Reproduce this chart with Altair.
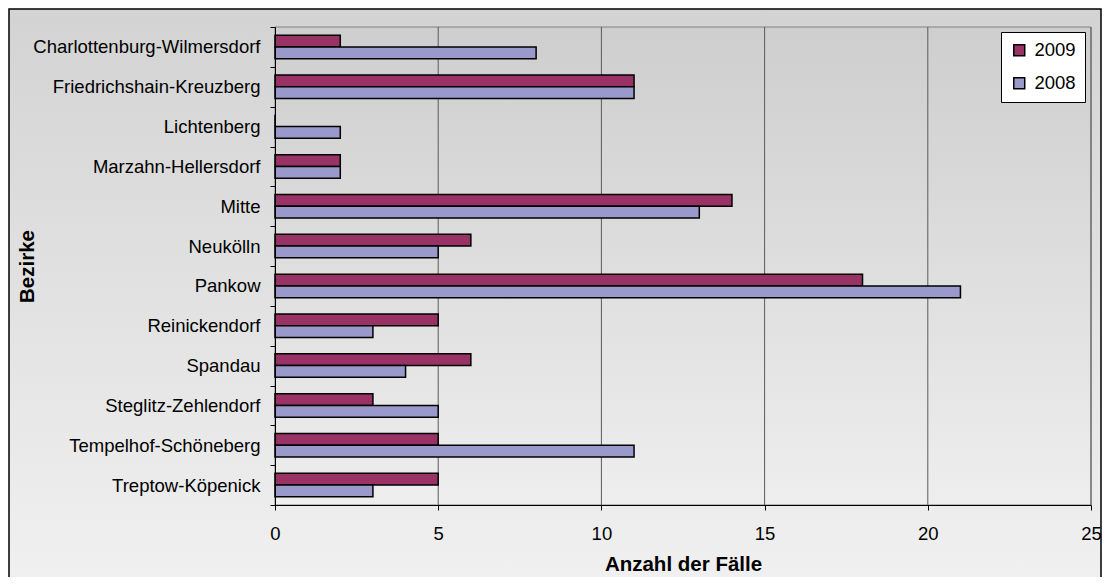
import altair as alt
import pandas as pd

districts = [
    "Charlottenburg-Wilmersdorf",
    "Friedrichshain-Kreuzberg",
    "Lichtenberg",
    "Marzahn-Hellersdorf",
    "Mitte",
    "Neukölln",
    "Pankow",
    "Reinickendorf",
    "Spandau",
    "Steglitz-Zehlendorf",
    "Tempelhof-Schöneberg",
    "Treptow-Köpenick",
]
cases_2009 = [2, 11, 0, 2, 14, 6, 18, 5, 6, 3, 5, 5]
cases_2008 = [8, 11, 2, 2, 13, 5, 21, 3, 4, 5, 11, 3]
years = ["2009", "2008"]
year_colors = ["#993366", "#9999CC"]
x_ticks = [0, 5, 10, 15, 20, 25]
grid_values = [5, 10, 15, 20, 25]

rows = []
for d, a, b in zip(districts, cases_2009, cases_2008):
    rows.append({"Bezirk": d, "Jahr": "2009", "n": a})
    rows.append({"Bezirk": d, "Jahr": "2008", "n": b})
df = pd.DataFrame(rows)

W, H = 816, 478
PAD_L, PAD_T, PAD_R, PAD_B = 267, 19, 11, 72
FONT = "Liberation Sans"

one = pd.DataFrame({"k": [0]})


def grad(c0, c1):
    return alt.LinearGradient(
        gradient="linear", x1=0, y1=0, x2=0, y2=1,
        stops=[alt.GradientStop(color=c0, offset=0), alt.GradientStop(color=c1, offset=1)],
    )


outer = alt.Chart(one).mark_rect(
    color=grad("#D3D3D3", "#F1F1F1"), stroke="#000000", strokeWidth=1.5
).encode(
    x=alt.value(-PAD_L + 1), x2=alt.value(W + PAD_R - 1),
    y=alt.value(-PAD_T + 1), y2=alt.value(H + PAD_B + 20),
)

plot_bg = alt.Chart(one).mark_rect(
    color=grad("#CECECE", "#EEEEEE"), stroke="#808080", strokeWidth=1
).encode(
    x=alt.value(0), x2=alt.value(W), y=alt.value(0), y2=alt.value(H)
)

xscale = alt.Scale(domain=[0, 25], nice=False, zero=True)


def x_axis():
    return alt.Axis(
        values=x_ticks, format="d", title="Anzahl der Fälle", grid=False, zindex=2,
        domainColor="#000000", tickColor="#000000", tickSize=5,
        labelFontSize=18.5, labelColor="#000000", labelPadding=14,
        labelFlush=False, labelOverlap=False,
        titleFontSize=20.5, titleFontWeight="bold", titleColor="#000000",
        titleY=65, titleBaseline="alphabetic",
    )


grid = alt.Chart(pd.DataFrame({"n": grid_values})).mark_rule(
    color="#5A5A5A", strokeWidth=1
).encode(
    x=alt.X("n:Q", scale=xscale, axis=x_axis()),
    y=alt.value(0), y2=alt.value(H),
)

bars = alt.Chart(df).mark_bar(stroke="#000000", strokeWidth=1.5, opacity=1).encode(
    x=alt.X("n:Q", scale=xscale, axis=x_axis()),
    y=alt.Y(
        "Bezirk:N", sort=districts,
        scale=alt.Scale(paddingInner=0, paddingOuter=0),
        axis=alt.Axis(
            title="Bezirke", tickBand="extent", zindex=2,
            domainColor="#000000", tickColor="#000000", tickSize=5,
            labelFontSize=18.5, labelColor="#000000", labelPadding=10, labelLimit=400,
            titleFontSize=20.5, titleFontWeight="bold", titleColor="#000000",
            titleX=-242, titleY=H / 2, titleBaseline="alphabetic", titleAngle=270,
        ),
    ),
    yOffset=alt.YOffset("Jahr:N", sort=years, scale=alt.Scale(paddingInner=0, paddingOuter=0.7)),
    color=alt.Color(
        "Jahr:N", sort=years,
        scale=alt.Scale(domain=years, range=year_colors),
        legend=alt.Legend(
            title=None, orient="none", legendX=W - 90, legendY=5,
            fillColor="#FFFFFF", strokeColor="#000000", padding=9,
            symbolType="square", symbolSize=120, symbolStrokeColor="#000000",
            symbolStrokeWidth=1.5, symbolOpacity=1,
            labelFontSize=18.5, labelColor="#000000", labelOffset=6, rowPadding=14,
        ),
    ),
)

chart = alt.layer(outer, plot_bg, grid, bars).properties(
    width=W, height=H,
    padding={"left": PAD_L, "top": PAD_T, "right": PAD_R, "bottom": PAD_B},
    autosize=alt.AutoSizeParams(type="none"),
    background="#FFFFFF",
).configure(font=FONT).configure_view(stroke=None).configure_axis(
    labelFont=FONT, titleFont=FONT
).configure_legend(labelFont=FONT)

chart.save("out.html", embed_options={"renderer": "svg", "actions": False})
